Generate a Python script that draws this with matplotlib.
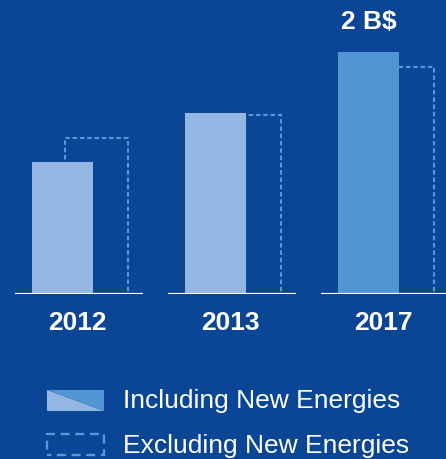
import matplotlib.pyplot as plt
from matplotlib.patches import Rectangle, Polygon

plt.rcParams['font.family'] = ['Liberation Sans', 'DejaVu Sans']

years = ['2012', '2013', '2017']
including = [1.09, 1.50, 2.00]
excluding = [1.29, 1.48, 1.88]
top_label = '2 B$'
legend_labels = ['Including New Energies', 'Excluding New Energies']

bg = '#0a4596'
light = '#93b6e2'
mid = '#5096d2'
dash_col = '#5b97d6'

fig = plt.figure(figsize=(4.46, 4.59), dpi=100, facecolor=bg)
ax = fig.add_axes([0, 165 / 459, 1, 294 / 459])
ax.set_facecolor(bg)
ax.set_xlim(-62.5 / 153, (446 - 62.5) / 153)
ax.set_ylim(0, 2.43)
ax.axis('off')

x = list(range(len(years)))
bar_w = 0.40
shift = 0.222

# dashed "excluding" outlines sit behind the solid bars
ax.bar([i + shift for i in x], excluding, width=0.41, align='center',
       facecolor='none', edgecolor=dash_col, linewidth=1.5,
       linestyle=(0, (2.2, 1.3)), zorder=1)
solid_cols = [light, light, mid]
ax.bar(x, including, width=bar_w, color=solid_cols, edgecolor='none', zorder=2)

for i, yr in enumerate(years):
    ax.hlines(0, i - 0.31, i - 0.31 + 0.837, color='white', linewidth=1.6,
              clip_on=True, zorder=3)
    ax.annotate(yr, xy=(i + 0.1, 0), xytext=(0, -21), textcoords='offset points',
                ha='center', va='center', color='white', fontsize=19,
                fontweight='bold', annotation_clip=False)

ax.annotate(top_label, xy=(x[-1], including[-1]), xytext=(0, 21.5),
            textcoords='offset points', ha='center', va='center',
            color='white', fontsize=19, fontweight='bold', annotation_clip=False)

# legend drawn by hand in figure pixels
W, H = 446, 459


def fx(px):
    return px / W


def fy(py):
    return 1 - py / H


x0, x1 = 47, 104
y0, y1 = 390, 411
fig.patches.append(Polygon([(fx(x0), fy(y0)), (fx(x1), fy(y1)), (fx(x0), fy(y1))],
                           closed=True, transform=fig.transFigure,
                           facecolor=light, edgecolor='none'))
fig.patches.append(Polygon([(fx(x0), fy(y0)), (fx(x1), fy(y0)), (fx(x1), fy(y1))],
                           closed=True, transform=fig.transFigure,
                           facecolor=mid, edgecolor='none'))
fig.patches.append(Rectangle((fx(47), fy(455)), fx(104) - fx(47), fy(434) - fy(455),
                             transform=fig.transFigure, facecolor='none',
                             edgecolor=dash_col, linewidth=1.7,
                             linestyle=(2, (3.8, 2.4))))

fig.text(fx(123), fy(401), legend_labels[0], color='white', fontsize=19,
         ha='left', va='center')
fig.text(fx(123), fy(446), legend_labels[1], color='white', fontsize=19,
         ha='left', va='center')

fig.savefig('out.png', dpi=100, facecolor=bg)
